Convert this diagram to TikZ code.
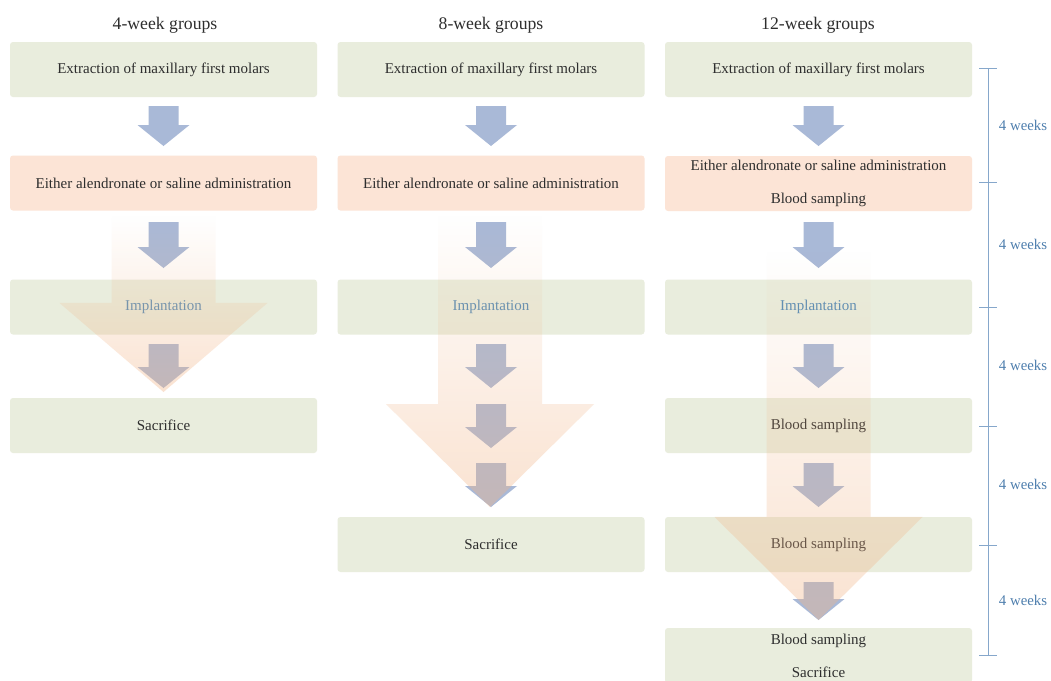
\documentclass[tikz,border=0pt]{standalone}
\usepackage{fontspec}
\setmainfont{Liberation Serif}
\usetikzlibrary{fadings}
\definecolor{boxgreen}{HTML}{E9EDDD}
\definecolor{boxorange}{HTML}{FCE4D6}
\definecolor{arrowblue}{HTML}{A9B9D7}
\definecolor{bigorange}{HTML}{F2B486}
\definecolor{txt}{HTML}{2E2E2E}
\definecolor{implblue}{HTML}{5A8DB5}
\definecolor{lineblue}{HTML}{86A7CB}
\definecolor{weekblue}{HTML}{4F7FAE}
\tikzfading[name=bigfade, top color=transparent!100, bottom color=transparent!62]
\newcommand{\smarrow}[3]{%
  \fill[arrowblue] (#1-15,#2) -- (#1+15,#2) -- (#1+15,#3-21) -- (#1+26,#3-21) -- (#1,#3) -- (#1-26,#3-21) -- (#1-15,#3-21) -- cycle;}
\newcommand{\bgarrow}[4]{%
  \fill[bigorange, path fading=bigfade] (#1-52,#2) -- (#1+52,#2) -- (#1+52,#3) -- (#1+104,#3) -- (#1,#4) -- (#1-104,#3) -- (#1-52,#3) -- cycle;}
\tikzset{
  gbox/.style={rectangle, rounded corners=3pt, fill=boxgreen, minimum width=307pt, minimum height=55pt, inner sep=0pt, align=center, text=txt, font=\fontsize{15}{33}\selectfont},
  obox/.style={gbox, fill=boxorange},
  title/.style={text=txt, font=\fontsize{17.7}{20}\selectfont},
  weeks/.style={text=weekblue, font=\fontsize{14.8}{17}\selectfont},
  tl/.style={draw=lineblue, line width=0.9pt}
}
\begin{document}
\begin{tikzpicture}[x=1pt,y=-1pt]
\clip (0,0) rectangle (1051,680);
\fill[white] (0,0) rectangle (1051,680);
% titles
\node[title] (t1) at (165,25) {4-week groups};
\node[title] (t2) at (491,25) {8-week groups};
\node[title] (t3) at (818,25) {12-week groups};
% column 1
\node[gbox] (a1) at (163.5,69.5) {Extraction of maxillary first molars};
\node[obox] (a2) at (163.5,183) {Either alendronate or saline administration};
\node[gbox, text=implblue] (a3) at (163.5,307) {Implantation};
\node[gbox] (a4) at (163.5,425.5) {Sacrifice};
% column 2
\node[gbox] (b1) at (491,69.5) {Extraction of maxillary first molars};
\node[obox] (b2) at (491,183) {Either alendronate or saline administration};
\node[gbox, text=implblue] (b3) at (491,307) {Implantation};
\node[gbox] (b4) at (491,544.5) {Sacrifice};
% column 3
\node[gbox] (c1) at (818.5,69.5) {Extraction of maxillary first molars};
\node[obox] (c2) at (818.5,183.5) {Either alendronate or saline administration\\Blood sampling};
\node[gbox, text=implblue] (c3) at (818.5,307) {Implantation};
\node[gbox] (c4) at (818.5,425.5) {Blood sampling};
\node[gbox] (c5) at (818.5,544.5) {Blood sampling};
\node[gbox] (c6) at (818.5,655.5) {Blood sampling\\Sacrifice};
% small arrows
\smarrow{163.5}{106}{146}
\smarrow{163.5}{222}{268}
\smarrow{163.5}{344}{388}
\smarrow{491}{106}{146}
\smarrow{491}{222}{268}
\smarrow{491}{344}{388}
\smarrow{491}{404}{448}
\smarrow{491}{463}{507}
\smarrow{818.5}{106}{146}
\smarrow{818.5}{222}{268}
\smarrow{818.5}{344}{388}
\smarrow{818.5}{463}{507}
\smarrow{818.5}{582}{620}
% big arrows
\bgarrow{163.5}{215}{303}{392}
\bgarrow{490}{215}{404}{507}
\bgarrow{818.5}{250}{517}{620}
% timeline
\coordinate (k0) at (988,68);
\coordinate (k1) at (988,182);
\coordinate (k2) at (988,307);
\coordinate (k3) at (988,426);
\coordinate (k4) at (988,545);
\coordinate (k5) at (988,655);
\draw[tl] (k0) -- (k5);
\foreach \k in {k0,k1,k2,k3,k4,k5}{
  \draw[tl] ([xshift=-9pt]\k) -- ([xshift=9pt]\k);
}
\node[weeks] (w1) at (1023,125) {4 weeks};
\node[weeks] (w2) at (1023,244) {4 weeks};
\node[weeks] (w3) at (1023,365) {4 weeks};
\node[weeks] (w4) at (1023,484) {4 weeks};
\node[weeks] (w5) at (1023,600) {4 weeks};
\end{tikzpicture}
\end{document}
